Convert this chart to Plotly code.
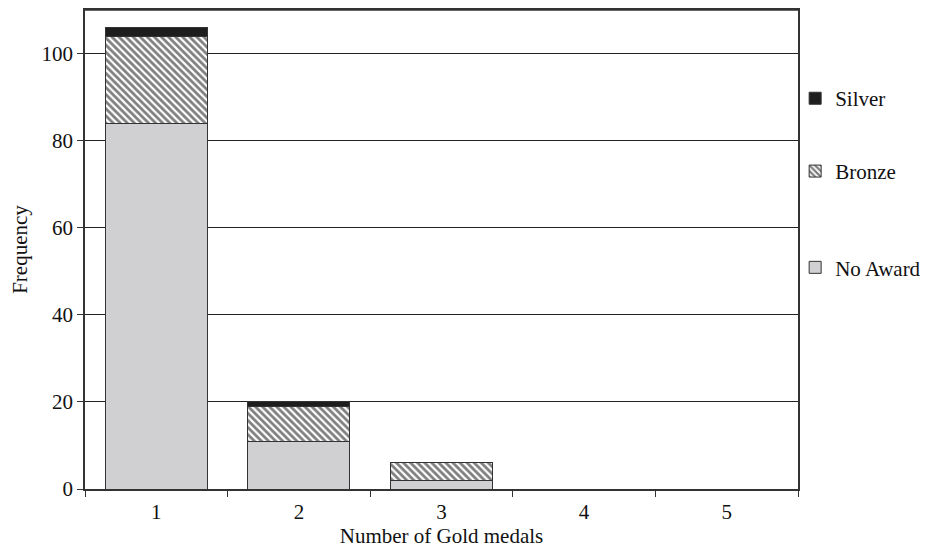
import plotly.graph_objects as go

categories = ["1", "2", "3", "4", "5"]
no_award = [84, 11, 2, 0, 0]
bronze = [20, 8, 4, 0, 0]
silver = [2, 1, 0, 0, 0]
y_ticks = [0, 20, 40, 60, 80, 100]

font_family = "Liberation Serif, Times New Roman, serif"
line_col = "#333333"
fs = 21

fig = go.Figure()
fig.add_trace(go.Bar(
    x=categories, y=no_award, name="No Award",
    marker=dict(color="#d0d0d2", line=dict(color=line_col, width=1)),
    legend="legend3",
))
fig.add_trace(go.Bar(
    x=categories, y=bronze, name="Bronze",
    marker=dict(color="white", line=dict(color=line_col, width=1),
                pattern=dict(shape="\\", fgcolor="#000000", bgcolor="white",
                             size=5, solidity=0.55)),
    legend="legend2",
))
fig.add_trace(go.Bar(
    x=categories, y=silver, name="Silver",
    marker=dict(color="#1e1e1e", line=dict(color=line_col, width=1)),
    legend="legend",
))

leg_common = dict(
    xanchor="left", yanchor="middle", bgcolor="rgba(0,0,0,0)",
    font=dict(family=font_family, size=fs, color="#111111"),
    itemwidth=30,
)

fig.update_layout(
    width=938, height=553,
    barmode="stack", bargap=0.285,
    plot_bgcolor="white", paper_bgcolor="white",
    margin=dict(l=77, r=148, t=2, b=72, autoexpand=False),
    font=dict(family=font_family, size=fs, color="#111111"),
    showlegend=True,
    legend=dict(x=0.996, y=0.815, **leg_common),
    legend2=dict(x=0.996, y=0.663, **leg_common),
    legend3=dict(x=0.996, y=0.462, **leg_common),
    xaxis=dict(
        title=dict(text="Number of Gold medals", font=dict(size=fs), standoff=5),
        type="category", tickson="boundaries", ticks="outside", ticklen=6,
        tickcolor=line_col, showline=True, linecolor=line_col, linewidth=1.5,
        mirror=True, showgrid=False, tickfont=dict(size=fs), automargin=False,
        ticklabelstandoff=3,
    ),
    yaxis=dict(
        title=dict(text="Frequency", font=dict(size=fs), standoff=16),
        range=[0, 110], tickvals=y_ticks, ticks="outside", ticklen=6,
        tickcolor=line_col, showline=True, linecolor=line_col, linewidth=1.5,
        mirror=True, showgrid=True, gridcolor="#222222", gridwidth=1,
        zeroline=False, tickfont=dict(size=fs), automargin=False,
    ),
    shapes=[dict(type="line", xref="paper", yref="paper", x0=0, x1=1, y0=1, y1=1,
                 line=dict(color=line_col, width=1.5), layer="above")],
)

fig.write_html("out.html")
